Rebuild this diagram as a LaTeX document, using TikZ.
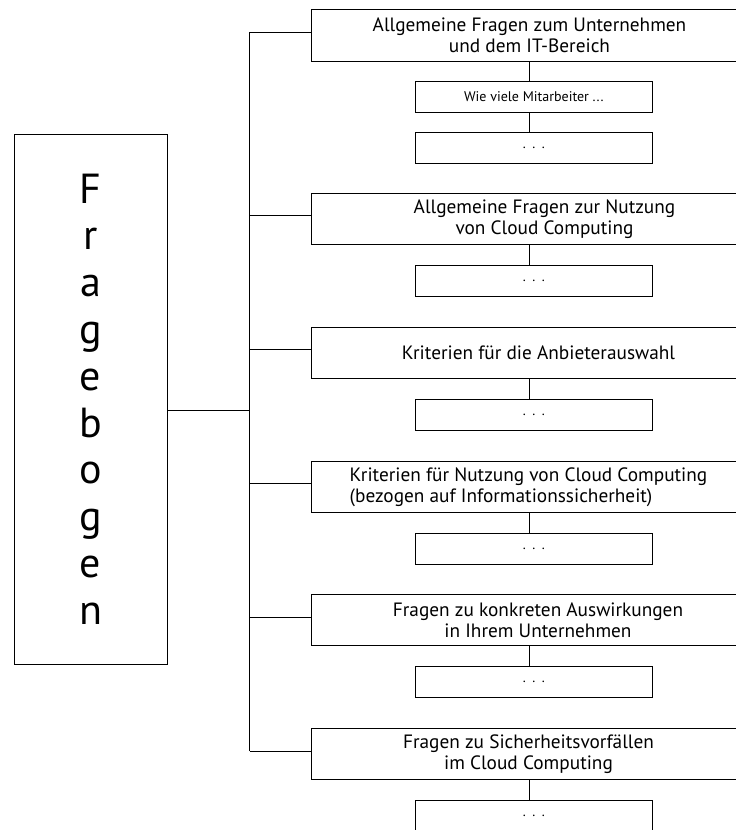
\documentclass[tikz,border=0pt]{standalone}
\usepackage{fontspec}
\setmainfont{PT Sans}
\newcommand{\spdots}{.\hspace{6.5pt}.\hspace{6.5pt}.}
\begin{document}
\begin{tikzpicture}[x=1pt,y=-1pt,
  line/.style={line width=1pt},
  catbox/.style={draw, line width=1pt, anchor=west, align=center,
    minimum height=51.5pt, inner sep=0pt,
    font=\fontsize{19.3}{21}\selectfont},
  subbox/.style={draw, line width=1pt, minimum width=236.5pt,
    minimum height=31pt, inner sep=0pt,
    font=\fontsize{14}{17}\selectfont},
  mainbox/.style={draw, line width=1pt, minimum width=153pt,
    minimum height=530pt, inner sep=0pt, align=center,
    font=\fontsize{42}{46.8}\selectfont}]
\useasboundingbox (0,0) rectangle (736,830);
\clip (0,0) rectangle (736,830);

% questionnaire root
\node[mainbox] (root) at (90.5,399) {F\\r\\a\\g\\e\\b\\o\\g\\e\\n};

% question groups (left edge at x=311, right edge runs off the page)
\node[catbox, minimum width=436pt] (c1) at (311,35.25)
  {Allgemeine Fragen zum Unternehmen\\und dem IT-Bereich};
\node[catbox, minimum width=466pt] (c2) at (311,218.75)
  {Allgemeine Fragen zur Nutzung\\von Cloud Computing};
\node[catbox, minimum width=454pt] (c3) at (311,352.75)
  {Kriterien für die Anbieterauswahl};
\node[catbox, minimum width=434pt, align=left] (c4) at (311,486.75)
  {Kriterien für Nutzung von Cloud Computing\\(bezogen auf Informationssicherheit)};
\node[catbox, minimum width=453pt] (c5) at (311,620)
  {Fragen zu konkreten Auswirkungen\\in Ihrem Unternehmen};
\node[catbox, minimum width=434pt] (c6) at (311,753.75)
  {Fragen zu Sicherheitsvorfällen\\im Cloud Computing};

% individual questions
\node[subbox] (q1) at (533.8,96.5) {Wie viele Mitarbeiter ...};
\node[subbox] (d1) at (533.8,148) {\spdots};
\node[subbox] (d2) at (533.8,281) {\spdots};
\node[subbox] (d3) at (533.8,414.5) {\spdots};
\node[subbox] (d4) at (533.8,548.5) {\spdots};
\node[subbox] (d5) at (533.8,682) {\spdots};
\node[subbox] (d6) at (533.8,815.5) {\spdots};

% bus and branch points
\coordinate (vx) at (529,0);
\coordinate (hub) at (249.5,410);
\coordinate (b1) at (249.5,32);
\coordinate (b2) at (249.5,215.5);
\coordinate (b3) at (249.5,349.5);
\coordinate (b4) at (249.5,483.5);
\coordinate (b5) at (249.5,617);
\coordinate (b6) at (249.5,751);

\draw[line] (root.east |- hub) -- (hub);
\draw[line] (b1) -- (b6);
\foreach \i in {1,...,6} {
  \draw[line] (b\i) -- (c\i.west |- b\i);
}

% group to question links
\draw[line] (c1.south -| vx) -- (q1.north -| vx);
\draw[line] (q1.south -| vx) -- (d1.north -| vx);
\foreach \i in {2,...,6} {
  \draw[line] (c\i.south -| vx) -- (d\i.north -| vx);
}
\end{tikzpicture}
\end{document}
